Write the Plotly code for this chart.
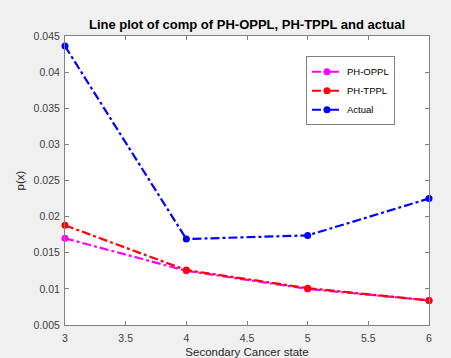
import plotly.graph_objects as go

# Secondary cancer states and the probabilities p(x) for each model
states = [3, 4, 5, 6]
ph_oppl = [0.0170, 0.0125, 0.0100, 0.0084]
ph_tppl = [0.0188, 0.0126, 0.0101, 0.0084]
actual = [0.0436, 0.0169, 0.0174, 0.0225]

series = [
    ("PH-OPPL", ph_oppl, "#ff00ff"),
    ("PH-TPPL", ph_tppl, "#ff0000"),
    ("Actual", actual, "#0000ff"),
]

fig = go.Figure()
for name, vals, color in series:
    fig.add_trace(go.Scatter(
        x=states, y=vals, name=name, mode="lines+markers",
        line=dict(color=color, width=2.2, dash="dashdot"),
        marker=dict(color=color, size=7, symbol="circle"),
        cliponaxis=False,
    ))

font_family = "Liberation Sans, Arial"
axis_common = dict(
    showline=True, linecolor="#808080", linewidth=1, mirror="ticks",
    ticks="inside", ticklen=4, tickcolor="#808080",
    showgrid=False, zeroline=False, automargin=False,
    tickfont=dict(family=font_family, size=10.5, color="#404040"),
)

fig.update_layout(
    width=451, height=358,
    margin=dict(l=65, r=22, t=36, b=33),
    paper_bgcolor="#f0f0f0", plot_bgcolor="#ffffff",
    title=dict(
        text="<b>Line plot of comp of PH-OPPL, PH-TPPL and actual</b>",
        x=(65 + 429) / 2 / 451, xanchor="center", y=1 - 24 / 358, yanchor="middle",
        font=dict(family=font_family, size=13, color="#000000"),
    ),
    xaxis=dict(
        range=[3, 6], dtick=0.5, tick0=3, ticklabelstandoff=3,
        title=dict(text="Secondary Cancer state", standoff=9,
                   font=dict(family=font_family, size=11.5, color="#262626")),
        **axis_common,
    ),
    yaxis=dict(
        range=[0.005, 0.045], dtick=0.005, tick0=0.005, ticklabelstandoff=2,
        title=dict(text="p(x)", standoff=6,
                   font=dict(family=font_family, size=11.5, color="#262626")),
        **axis_common,
    ),
    legend=dict(
        x=0.662, y=0.93, xanchor="left", yanchor="top",
        bgcolor="#ffffff", bordercolor="#808080", borderwidth=1,
        font=dict(family=font_family, size=9.5, color="#000000"),
        tracegroupgap=0,
    ),
    showlegend=True,
)

fig.write_html("out.html")
